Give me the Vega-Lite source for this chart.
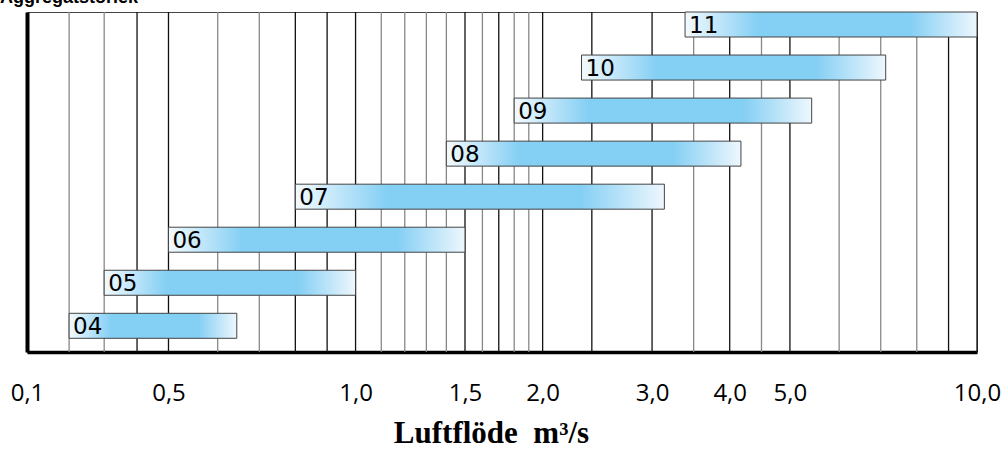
{
  "$schema": "https://vega.github.io/schema/vega-lite/v6.json",
  "width": 950,
  "height": 340,
  "autosize": {"type": "none"},
  "padding": {"left": 27, "top": 12, "right": 26, "bottom": 98},
  "background": "white",
  "title": {"text": "Aggregatstorlek", "anchor": "start", "frame": "group", "font": "Liberation Sans", "fontSize": 18, "fontWeight": "bold", "color": "#000", "baseline": "alphabetic", "offset": 0, "dx": -27, "dy": 10},
  "config": {"view": {"stroke": "#444", "strokeWidth": 1}},
  "datasets": {
    "bars": [
      {"size": "11", "start": 3.39, "end": 10},
      {"size": "10", "start": 2.31, "end": 7.13},
      {"size": "09", "start": 1.8, "end": 5.42},
      {"size": "08", "start": 1.4, "end": 4.17},
      {"size": "07", "start": 0.8, "end": 3.14},
      {"size": "06", "start": 0.5, "end": 1.5},
      {"size": "05", "start": 0.394, "end": 1.0},
      {"size": "04", "start": 0.346, "end": 0.644}
    ],
    "grid": [
      {"v": 0.346, "kind": "minor"}, {"v": 0.394, "kind": "minor"}, {"v": 0.445, "kind": "major"}, {"v": 0.5, "kind": "major"},
      {"v": 0.6, "kind": "minor"}, {"v": 0.7, "kind": "minor"}, {"v": 0.8, "kind": "major"}, {"v": 0.9, "kind": "major"},
      {"v": 1.0, "kind": "major"}, {"v": 1.1, "kind": "minor"}, {"v": 1.2, "kind": "minor"}, {"v": 1.3, "kind": "minor"},
      {"v": 1.4, "kind": "minor"}, {"v": 1.5, "kind": "major"}, {"v": 1.6, "kind": "minor"}, {"v": 1.7, "kind": "major"},
      {"v": 1.8, "kind": "minor"}, {"v": 1.9, "kind": "minor"}, {"v": 2.0, "kind": "major"}, {"v": 2.4, "kind": "major"},
      {"v": 3.0, "kind": "major"}, {"v": 3.5, "kind": "minor"}, {"v": 4.0, "kind": "major"}, {"v": 4.5, "kind": "minor"},
      {"v": 5.0, "kind": "major"}, {"v": 6.0, "kind": "minor"}, {"v": 7.0, "kind": "minor"}, {"v": 8.0, "kind": "minor"},
      {"v": 9.0, "kind": "major"}, {"v": 10.0, "kind": "major"}
    ]
  },
  "layer": [
    {
      "data": {"name": "grid"},
      "mark": {"type": "rule", "strokeWidth": 1.3},
      "encoding": {
        "x": {
          "field": "v", "type": "quantitative",
          "scale": {"type": "log", "domain": [0.296, 10], "nice": false, "zero": false},
          "axis": {
            "values": [0.296, 0.5, 1, 1.5, 2, 3, 4, 5, 10],
            "labelExpr": "datum.value < 0.3 ? '0,1' : replace(format(datum.value, '.1f'), '.', ',')",
            "domain": true, "domainColor": "#000", "domainWidth": 3.5,
            "ticks": false, "grid": false,
            "labelFont": "Open Sans", "labelFontSize": 24, "labelColor": "#000",
            "labelPadding": 29, "labelFlush": false, "labelOverlap": false, "labelBound": false,
            "title": "Luftflöde\u00a0\u00a0m³/s", "titleFont": "Liberation Serif", "titleFontSize": 31,
            "titleFontWeight": "bold", "titleColor": "#000", "titleX": 464, "titleY": 90,
            "titleBaseline": "alphabetic", "titleAlign": "center", "titleAnchor": "start"
          }
        },
        "color": {"field": "kind", "type": "nominal", "scale": {"domain": ["major", "minor"], "range": ["#111111", "#888888"]}, "legend": null}
      }
    },
    {
      "data": {"name": "bars"},
      "mark": {
        "type": "bar", "stroke": "#444", "strokeWidth": 1,
        "fill": {"gradient": "linear", "x1": 0, "y1": 0, "x2": 1, "y2": 0,
          "stops": [{"offset": 0, "color": "#f4fafe"}, {"offset": 0.25, "color": "#84cff4"}, {"offset": 0.77, "color": "#84cff4"}, {"offset": 1, "color": "#eef7fd"}]}
      },
      "encoding": {
        "x": {"field": "start", "type": "quantitative"},
        "x2": {"field": "end"},
        "y": {
          "field": "size", "type": "nominal",
          "sort": ["11", "10", "09", "08", "07", "06", "05", "04"],
          "scale": {"paddingInner": 0.419, "paddingOuter": 0.159, "align": 0},
          "axis": {"domain": true, "domainColor": "#000", "domainWidth": 4, "ticks": false, "labels": false, "title": null, "grid": false}
        }
      }
    },
    {
      "data": {"name": "bars"},
      "mark": {"type": "text", "align": "left", "baseline": "middle", "dx": 4, "dy": 1, "font": "DejaVu Sans", "fontSize": 23, "color": "#000"},
      "encoding": {
        "x": {"field": "start", "type": "quantitative"},
        "y": {"field": "size", "type": "nominal", "sort": ["11", "10", "09", "08", "07", "06", "05", "04"]},
        "text": {"field": "size"}
      }
    }
  ]
}
